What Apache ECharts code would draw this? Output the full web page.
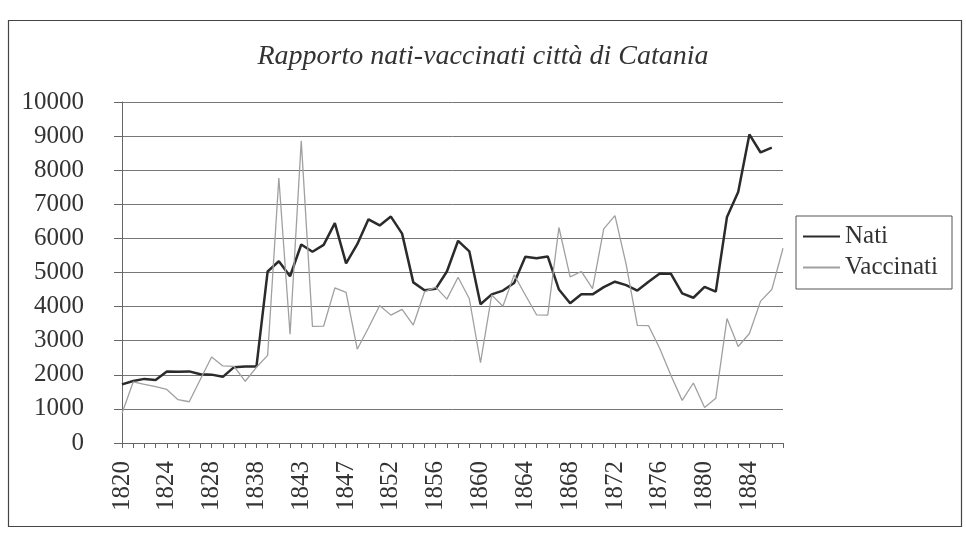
<!DOCTYPE html>
<html>
<head>
<meta charset="utf-8">
<script src="https://cdn.jsdelivr.net/npm/echarts@6/dist/echarts.min.js"></script>
<style>
html,body{margin:0;padding:0;background:#fff;}
#chart{width:966px;height:538px;}
</style>
</head>
<body>
<div id="chart"></div>
<script>
const years = [
  '1820','1821','1822','1823','1824','1825','1826','1827','1828',
  '1835','1836','1837','1838','1839','1840','1841',
  '1843','1844','1845','1846','1847','1848','1849','1850',
  '1852','1853','1854','1855','1856','1857','1858','1859','1860',
  '1861','1862','1863','1864','1865','1866','1867','1868','1869',
  '1870','1871','1872','1873','1874','1875','1876','1877','1878',
  '1879','1880','1881','1882','1883','1884','1885','1886','1887'
];
const nati = [
  1720,1820,1880,1850,2100,2090,2100,2015,2005,
  1940,2225,2245,2240,5030,5330,4890,
  5820,5610,5810,6450,5270,5830,6560,6380,
  6640,6140,4710,4480,4520,5030,5930,5620,4070,
  4360,4470,4690,5460,5420,5470,4500,4100,4360,
  4360,4570,4730,4630,4470,4730,4970,4960,4390,
  4260,4580,4440,6630,7360,9050,8520,8660
];
const vaccinati = [
  870,1790,1720,1650,1570,1270,1210,1870,2520,
  2260,2250,1810,2220,2570,7770,3190,
  8860,3420,3430,4550,4420,2750,3380,4030,
  3750,3920,3460,4430,4570,4220,4860,4230,2360,
  4340,4010,4930,4340,3760,3750,6320,4870,5030,
  4530,6280,6670,5240,3450,3440,2770,1980,1250,
  1760,1040,1310,3650,2830,3210,4160,4500,5710
];
const yTicks = {min: 0, max: 10000, interval: 1000};

const serif = "'Liberation Serif', 'DejaVu Serif', serif";
const chart = echarts.init(document.getElementById('chart'));
chart.setOption({
  backgroundColor: '#ffffff',
  animation: false,
  title: {
    text: 'Rapporto nati-vaccinati città di Catania',
    left: 'center',
    top: 38,
    textStyle: {fontFamily: serif, fontStyle: 'italic', fontWeight: 'normal', fontSize: 28, color: '#333'}
  },
  graphic: [{
    type: 'rect', shape: {x: 8.5, y: 20.5, width: 953, height: 506},
    style: {fill: 'none', stroke: '#444', lineWidth: 1.2}, silent: true
  }],
  legend: {
    orient: 'vertical',
    left: 796, top: 216,
    padding: [8, 14, 9, 7],
    itemGap: 6,
    itemWidth: 37, itemHeight: 2,
    icon: 'rect',
    borderColor: '#555', borderWidth: 1,
    textStyle: {fontFamily: serif, fontSize: 25, color: '#333'},
    data: ['Nati', 'Vaccinati']
  },
  grid: {left: 122, right: 183, top: 102, bottom: 95},
  xAxis: {
    type: 'category',
    data: years,
    boundaryGap: false,
    axisLine: {lineStyle: {color: '#666', width: 1}},
    axisTick: {show: true, interval: 0, length: 5, lineStyle: {color: '#666'}},
    axisLabel: {interval: 3, rotate: 90, margin: 18, fontFamily: serif, fontSize: 25, color: '#333'},
    splitLine: {show: false}
  },
  yAxis: {
    type: 'value',
    min: yTicks.min, max: yTicks.max, interval: yTicks.interval,
    axisLine: {show: true, lineStyle: {color: '#666', width: 1}},
    axisTick: {show: true, length: 8, lineStyle: {color: '#666'}},
    axisLabel: {margin: 38, fontFamily: serif, fontSize: 25, color: '#333',
      formatter: function (v) { return String(v); }},
    splitLine: {show: true, lineStyle: {color: '#777', width: 1}}
  },
  series: [
    {
      name: 'Nati', type: 'line', data: nati,
      symbol: 'none', color: '#2b2b2b',
      lineStyle: {color: '#2b2b2b', width: 2.5}
    },
    {
      name: 'Vaccinati', type: 'line', data: vaccinati,
      symbol: 'none', color: '#a0a0a0',
      lineStyle: {color: '#a0a0a0', width: 1.3}
    }
  ]
});
</script>
</body>
</html>
